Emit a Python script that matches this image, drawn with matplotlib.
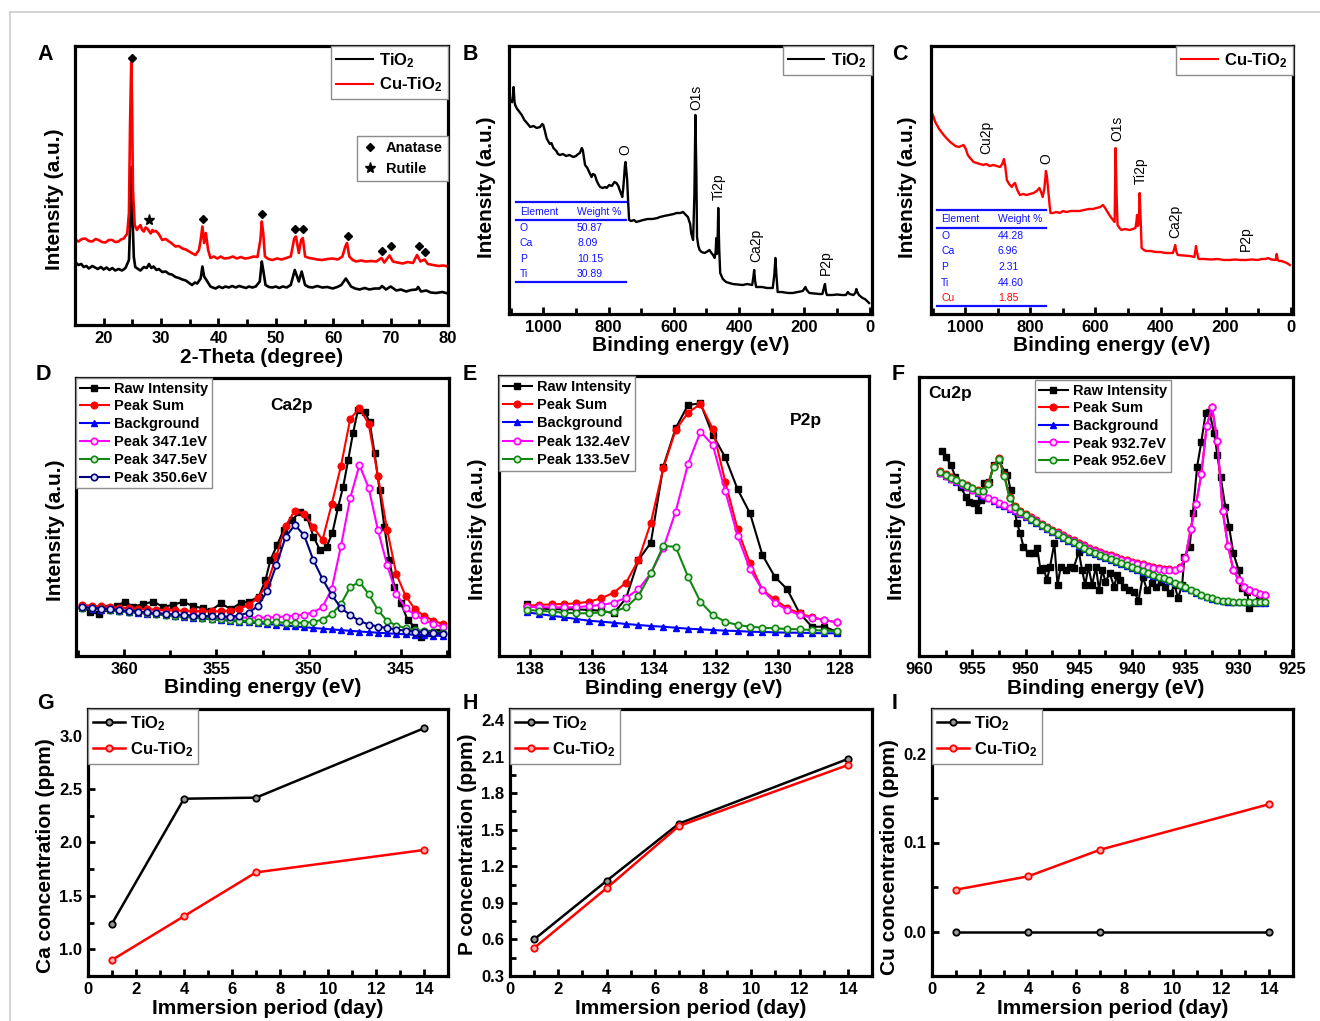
import matplotlib
matplotlib.use("Agg")
import matplotlib.pyplot as plt
from matplotlib.lines import Line2D
from matplotlib.ticker import MultipleLocator, NullLocator, FormatStrFormatter

plt.rcParams["font.family"] = ["Liberation Sans", "DejaVu Sans"]
plt.rcParams["font.weight"] = "bold"
plt.rcParams["axes.labelweight"] = "bold"
plt.rcParams["mathtext.fontset"] = "custom"
plt.rcParams["mathtext.rm"] = "Liberation Sans:bold"
plt.rcParams["mathtext.bf"] = "Liberation Sans:bold"
plt.rcParams["mathtext.it"] = "Liberation Sans:bold"

TIO2 = r"TiO$_2$"
CUTIO2 = r"Cu-TiO$_2$"

# ---------------- DATA ----------------
# (A) XRD patterns: (2-theta, intensity a.u.)
xrd_tio2 = [(15.0, 63), (15.6, 60), (16.1, 61), (16.5, 58), (17.0, 59), (17.4, 56.5), (18.0, 59), (18.5, 57.5),
            (19.0, 56), (19.5, 58), (20.0, 55.5), (20.5, 57.5), (21.0, 55), (21.5, 57), (22.0, 54.5), (22.6, 56),
            (23.2, 54.5), (23.8, 57), (24.4, 65), (24.7, 118), (24.85, 158), (25.0, 112), (25.25, 68), (25.5, 58),
            (26.0, 56), (26.4, 54.5), (27.0, 58), (27.5, 57), (27.9, 61), (28.3, 57), (28.7, 58.5), (29.2, 55),
            (29.6, 56), (30.2, 53), (30.8, 53.5), (31.4, 51), (31.9, 50.5), (32.5, 48), (33.1, 47), (33.7, 45.5),
            (34.3, 44.5), (34.9, 42), (35.4, 40), (35.9, 42.5), (36.3, 41.5), (36.9, 46.5), (37.2, 58.5), (37.5, 48.5),
            (37.9, 45), (38.6, 38.5), (39.0, 37.5), (39.5, 36.5), (40.1, 38.5), (40.7, 37), (41.2, 38.5), (41.8, 37.5),
            (42.4, 39), (43.0, 37.5), (43.6, 39), (44.2, 38), (44.8, 37), (45.3, 38.5), (45.9, 37.5), (46.5, 38.5),
            (47.2, 43.5), (47.55, 63.5), (47.8, 55), (48.2, 40), (48.8, 38), (49.4, 37.5), (50.0, 38.5), (50.6, 37),
            (51.2, 38.5), (51.9, 37.5), (52.6, 40), (53.3, 55), (54.0, 43.5), (54.5, 53.5), (55.1, 40), (55.7, 38),
            (56.4, 37.5), (57.2, 39), (58.1, 37.5), (59.0, 38), (59.9, 36.5), (60.7, 38), (61.4, 40), (62.2, 46.5),
            (63.1, 38.5), (63.8, 36.5), (64.6, 35.5), (65.5, 37), (66.3, 35.5), (67.2, 36.5), (68.1, 36.5), (68.5, 39),
            (69.2, 35.5), (70.0, 38.5), (71.0, 34.5), (71.8, 35.5), (72.7, 33.5), (73.6, 35), (74.5, 35.5), (74.8, 38),
            (75.3, 33.5), (76.2, 34.5), (77.0, 32.5), (77.9, 32), (79.0, 33), (80.0, 31.5)]
xrd_cutio2 = [(15.0, 85.5), (15.6, 83.5), (16.2, 86), (16.8, 86.5), (17.4, 84), (18.0, 83.5), (18.6, 86), (19.1, 85),
              (19.7, 83), (20.3, 82.5), (20.9, 85), (21.5, 85), (22.0, 83), (22.6, 83.5), (23.0, 85.5), (23.5, 86.5),
              (24.1, 91.5), (24.4, 112), (24.6, 202), (24.8, 263), (24.95, 218), (25.1, 135), (25.4, 100), (25.8, 95),
              (26.1, 98), (26.4, 100), (26.7, 95), (27.0, 93.5), (27.3, 97.5), (27.6, 96.5), (27.9, 94), (28.2, 91.5),
              (28.5, 95), (28.7, 93.5), (29.1, 94), (29.6, 91), (30.2, 85), (30.8, 86), (31.4, 83.5), (32.0, 81),
              (32.5, 78.5), (33.1, 79), (33.7, 76.5), (34.3, 75.5), (34.9, 73.5), (35.5, 71.5), (36.0, 70), (36.6, 75),
              (36.9, 85), (37.2, 98.5), (37.5, 82), (37.8, 92), (38.2, 75), (38.6, 67), (39.2, 68.5), (39.8, 66.5),
              (40.4, 68.5), (41.0, 66.5), (41.8, 67), (42.5, 68.5), (43.2, 66.5), (43.9, 68), (44.6, 66.5), (45.3, 67),
              (46.1, 68.5), (46.8, 68), (47.3, 85), (47.55, 103.5), (47.8, 92), (48.1, 68.5), (48.7, 66), (49.4, 65),
              (50.2, 66.5), (51.0, 65.5), (51.8, 67), (52.6, 68.5), (53.2, 86.5), (53.5, 88.5), (54.0, 72), (54.4, 85),
              (54.7, 87), (55.1, 68.5), (55.8, 67), (56.4, 66.5), (57.2, 65.5), (58.1, 65), (59.0, 66), (59.9, 66.5),
              (60.8, 65.5), (61.6, 68.5), (62.1, 78.5), (62.4, 82), (62.8, 68.5), (63.4, 65), (64.0, 63.5), (64.8, 64.5),
              (65.7, 63.5), (66.6, 64), (67.5, 63.5), (68.4, 67), (68.9, 62.5), (69.8, 69.5), (70.4, 63.5), (71.2, 62.5),
              (72.1, 61.5), (73.0, 63), (73.9, 62), (74.6, 70), (75.2, 63.5), (75.9, 65.5), (76.5, 61), (77.4, 60),
              (78.3, 59), (79.2, 59.5), (80.0, 58.5)]
anatase_marks = [(24.9, 267), (37.3, 106), (47.6, 111), (53.4, 96), (54.7, 96), (62.5, 89), (68.5, 74),
                 (70.1, 79), (74.9, 79), (76.0, 73)]
rutile_marks = [(27.9, 105)]

# (B) XPS survey TiO2: (binding energy, intensity)
survey_tio2 = [(1096, 212), (1093, 218), (1091, 227), (1088, 212), (1086, 209), (1080, 205), (1075, 203), (1066, 199),
               (1058, 194), (1050, 191), (1040, 187), (1030, 188), (1020, 186), (1010, 187), (1003, 190), (1000, 189),
               (995, 183), (990, 176), (987, 174), (980, 170), (975, 171), (969, 166), (960, 163), (955, 160),
               (949, 159), (940, 160), (930, 158), (920, 159), (908, 157), (900, 158), (893, 160), (888, 161),
               (882, 166), (879, 164), (875, 155), (872, 149), (865, 146), (858, 141), (852, 137), (848, 140),
               (842, 139), (836, 133), (830, 129), (826, 127), (818, 126), (810, 127), (806, 126), (798, 129),
               (790, 128), (782, 132), (776, 131), (770, 128), (766, 124), (760, 119), (758, 117), (755, 126),
               (753, 134), (750, 148), (748, 152), (746, 145), (743, 134), (740, 112), (737, 94), (730, 93),
               (722, 94), (715, 92), (705, 93), (694, 94), (680, 95), (665, 95), (650, 96), (643, 97), (630, 98),
               (615, 99), (600, 100), (592, 101), (580, 101), (572, 102), (566, 100), (557, 97), (550, 90), (547, 81),
               (543, 76), (541, 74), (537, 120), (534, 199), (531, 140), (529, 77), (525, 68), (521, 64), (515, 62),
               (506, 61), (500, 62), (491, 64), (485, 61), (480, 59), (475, 56), (472, 62), (470, 76), (468, 60),
               (466, 70), (464, 106), (461, 65), (458, 41), (450, 35), (440, 32), (430, 31), (420, 30), (405, 29.5),
               (389, 29), (375, 30), (360, 29), (356, 38), (354, 44), (351, 33), (348, 27), (330, 27), (315, 26),
               (297, 26), (292, 40), (289, 56), (286, 40), (282, 22), (270, 22), (250, 21), (236, 21), (220, 22),
               (205, 23), (197, 27), (193, 24), (185, 21), (170, 20.5), (155, 20), (145, 20), (139, 28), (137, 30),
               (134, 22), (131, 19), (115, 19), (100, 19.5), (85, 19), (73, 19), (67, 22), (62, 20), (50, 19),
               (44, 21), (41, 25), (38, 22), (33, 19), (26, 17), (22, 16), (15, 15), (8, 13), (2, 11)]
survey_tio2_labels = [("O", 748, 164), ("O1s", 531, 217), ("Ti2p", 462, 127), ("Ca2p", 348, 69), ("P2p", 134, 51)]
table_tio2 = [("O", "50.87"), ("Ca", "8.09"), ("P", "10.15"), ("Ti", "30.89")]

# (C) XPS survey Cu-TiO2
survey_cutio2 = [(1102, 201), (1097, 197), (1092, 192), (1087, 189), (1080, 185), (1073, 182), (1066, 179),
                 (1058, 176), (1052, 174), (1046, 172), (1038, 170), (1030, 168), (1020, 167), (1012, 168),
                 (1005, 169), (998, 165), (992, 159), (985, 156), (974, 152), (965, 151), (955, 150), (944, 149),
                 (935, 150), (925, 148), (913, 149), (903, 148), (893, 147), (886, 150), (881, 155), (877, 148),
                 (872, 134), (865, 130), (857, 127), (851, 130), (847, 131), (840, 124), (832, 119), (822, 120),
                 (812, 119), (801, 120), (790, 121), (780, 123), (772, 126), (767, 122), (762, 117), (757, 125),
                 (754, 135), (752, 143), (749, 138), (745, 124), (741, 110), (738, 101), (730, 101), (720, 102),
                 (710, 101), (699, 103), (690, 102), (675, 103), (660, 103), (648, 103), (635, 104), (620, 105),
                 (608, 105), (597, 106), (585, 107), (577, 109), (570, 106), (561, 101), (553, 97), (546, 94),
                 (541, 92), (538, 166), (535, 120), (532, 89), (526, 86), (520, 84), (510, 85), (495, 84), (485, 85),
                 (477, 86), (474, 92), (472, 99), (470, 88), (468, 89), (466, 100), (464, 121), (461, 95), (458, 66),
                 (451, 64), (444, 63), (430, 63), (415, 62), (400, 62), (385, 61), (370, 61), (362, 61), (358, 65),
                 (355, 69), (351, 62), (347, 59), (330, 58.5), (310, 58), (296, 57), (293, 63), (291, 68), (288, 62),
                 (283, 55), (265, 55), (245, 54.5), (225, 55), (205, 54), (189, 54), (170, 54.5), (155, 54),
                 (138, 54), (120, 54.5), (100, 54), (90, 55), (77, 55), (70, 56), (60, 54.5), (46, 54), (43, 60),
                 (40, 54), (36, 53), (28, 53), (20, 52), (12, 51), (3, 49)]
survey_cutio2_labels = [("Cu2p", 936, 177), ("O", 750, 155), ("O1s", 534, 186), ("Ti2p", 462, 143),
                        ("Ca2p", 354, 93), ("P2p", 138, 75)]
table_cutio2 = [("O", "44.28"), ("Ca", "6.96"), ("P", "2.31"), ("Ti", "44.60"), ("Cu", "1.85")]

# (D) Ca2p high-resolution
d_ev = [362.25, 361.75, 361.25, 360.75, 360.25, 359.75, 359.25, 358.75, 358.25, 357.75,
        357.25, 356.75, 356.25, 355.75, 355.25, 354.75, 354.25, 353.75, 353.25, 352.75,
        352.25, 351.75, 351.25, 350.75, 350.25, 349.75, 349.25, 348.75, 348.25, 347.75,
        347.25, 346.75, 346.25, 345.75, 345.25, 344.75, 344.25, 343.75, 343.25, 342.75]
d_sum = [51, 50.3, 49.6, 49, 48.4, 47.8, 47.3, 46.8, 46.4, 46, 45.6, 45.3, 45, 44.8, 44.6, 44.8, 45.5, 47.5, 51, 58,
         72, 100, 130, 145.5, 142, 129, 116, 152, 190, 237, 248, 232, 180, 126, 82, 60, 47, 40, 35.5, 32]
d_bg = [48.0, 47.2, 46.4, 45.6, 44.8, 44.0, 43.2, 42.4, 41.6, 40.8, 40.0, 39.2, 38.4, 37.6, 36.8, 36.0, 35.2, 34.4,
        33.6, 32.8, 32.0, 31.2, 30.4, 29.6, 28.8, 28.0, 27.3, 26.6, 25.9, 25.2, 24.5, 23.9, 23.3, 22.7, 22.2, 21.7,
        21.2, 20.8, 20.4, 20.0]
d_p3471 = [49, 48.2, 47.4, 46.6, 45.8, 45, 44.2, 43.4, 42.6, 41.9, 41.2, 40.5, 39.9, 39.4, 39, 38.7, 38.5, 38.4,
           38.4, 38.4, 38.5, 39, 39.5, 40.3, 41.5, 43.5, 49, 67, 110, 158, 191, 168, 126, 91, 62, 48, 41, 36, 32, 29]
d_p3475 = [48.5, 47.6, 46.8, 46.0, 45.2, 44.4, 43.6, 42.8, 42.0, 41.2, 40.4, 39.6, 38.8, 38.0, 37.3, 36.6, 36.0,
           35.4, 34.9, 34.4, 34.0, 33.6, 33.3, 33.1, 33.3, 34.0, 36.5, 42, 52, 69, 74, 62, 46, 35, 30.5, 28, 26.3,
           25.0, 24.0, 23.3]
d_p3506 = [49, 48.2, 47.4, 46.6, 45.8, 45, 44.3, 43.6, 42.9, 42.2, 41.6, 41, 40.5, 40.1, 39.8, 39.6, 39.5, 40.5,
           43.5, 50, 65, 91, 119, 131, 121, 96, 77, 61, 48, 41, 35, 31.5, 29.5, 28, 26.5, 25.3, 24.5, 23.7, 23, 22.5]
d_raw = [(362.27, 49.3), (361.83, 44.3), (361.38, 42), (360.84, 47.7), (360.39, 50), (359.95, 54.3), (359.5, 49.3),
         (358.96, 52), (358.42, 54.3), (357.89, 49.3), (357.35, 51), (356.81, 54.3), (356.28, 50), (355.74, 47.7),
         (355.3, 45.3), (354.76, 52.7), (354.2, 46.7), (353.68, 53.3), (353.23, 54.3), (352.7, 59.3), (352.34, 76),
         (352.07, 96), (351.71, 111), (351.36, 126), (350.9, 136), (350.46, 144.3), (350.1, 139.3), (349.74, 119.3),
         (349.39, 106), (349.03, 109.3), (348.72, 122.7), (348.4, 149.3), (348.13, 169.3), (347.86, 196),
         (347.6, 222.7), (347.33, 246), (346.97, 244.3), (346.7, 234.3), (346.43, 202.7), (346.16, 166),
         (345.9, 129.3), (345.63, 96), (345.36, 69.3), (345.0, 52.7), (344.64, 36), (344.28, 29.3), (343.93, 19.3),
         (343.57, 22.7), (343.2, 24.3), (342.85, 24.3)]

# (E) P2p high-resolution
e_ev = [138.1, 137.7, 137.3, 136.9, 136.5, 136.1, 135.7, 135.3, 134.9, 134.5, 134.1, 133.7, 133.3,
        132.9, 132.5, 132.1, 131.7, 131.3, 130.9, 130.5, 130.1, 129.7, 129.3, 128.9, 128.5, 128.1]
e_raw = [51.7, 47.7, 46.7, 46.7, 46.7, 46, 45.3, 42.7, 57.7, 96, 113.3, 189.3, 227.7, 251, 252.7, 221, 198.7,
         166.7, 142.7, 101, 79.3, 66.7, 42.7, 29.3, 29.3, 24.3]
e_sum = [50.3, 51, 51.7, 52, 52.7, 54.3, 57.7, 63.3, 73.3, 96, 133.3, 187.7, 226, 243.3, 252, 227, 174.3, 126.7,
         92.7, 66, 56.7, 47.7, 42.7, 38.7, 36, 33.7]
e_bg = [43.7, 42, 40.3, 38.7, 37, 35.3, 34.3, 33.3, 32, 31, 30, 29.3, 28.3, 27.3, 26.7, 26, 25.3, 25, 24.3, 24,
        23.7, 23.3, 23.3, 23, 22.7, 22.7]
e_p1324 = [49.3, 48.7, 48.7, 48.7, 48.7, 50, 51, 53.3, 58.3, 66.7, 82.7, 107.7, 144.3, 192, 224.3, 211, 165, 120,
           86.7, 66, 53.3, 46, 41, 38.3, 36, 33.7]
e_p1335 = [46, 45.3, 44.3, 43.3, 42.7, 42.7, 43.7, 44.3, 48.7, 60, 82.7, 110, 109.3, 79.3, 54.3, 41, 34.3, 31, 29.3,
           28.3, 27.7, 27, 26.7, 26, 25.3, 25]

# (F) Cu2p high-resolution
f_ev = [958.0, 957.5, 957.0, 956.5, 956.0, 955.5, 955.0, 954.5, 954.0, 953.5, 953.0, 952.5, 952.0, 951.5, 951.0,
        950.5, 950.0, 949.5, 949.0, 948.5, 948.0, 947.5, 947.0, 946.5, 946.0, 945.5, 945.0, 944.5, 944.0, 943.5,
        943.0, 942.5, 942.0, 941.5, 941.0, 940.5, 940.0, 939.5, 939.0, 938.5, 938.0, 937.5, 937.0, 936.5, 936.0,
        935.5, 935.0, 934.5, 934.0, 933.5, 933.0, 932.5, 932.0, 931.5, 931.0, 930.5, 930.0, 929.5, 929.0, 928.5,
        928.0, 927.5]
f_bg = [183, 180, 177, 174.2, 171.5, 168.7, 166, 163.2, 160.5, 157.7, 155, 152.5, 150, 147.5, 145, 142.2, 139.5,
        136.5, 133.5, 130.2, 127, 124, 121, 118.2, 115.5, 112.7, 110, 107.2, 104.5, 102.2, 100, 98, 96, 94, 92, 90,
        88, 86.2, 84.5, 82.5, 80.5, 78.7, 77, 75, 73, 70.7, 68.5, 66, 63.5, 61.2, 59, 57.5, 56, 55.2, 54.5, 54.2, 54,
        53.8, 53.7, 53.6, 53.5, 53.5]
f_p9526 = [184.5, 181.5, 178.5, 175.7, 173, 170.3, 167.7, 165.5, 165, 172, 189, 197, 180, 158, 149.5, 144, 140.8,
           137.5, 134.5, 131.2, 128, 125, 122, 119.2, 116.5, 113.7, 111, 108.2, 105.5, 103.2, 101, 99, 97, 95, 93,
           91, 89, 87.2, 85.5, 83.5, 81.5, 79.5, 77.7, 75.6, 73.5, 71.2, 69, 66.4, 63.9, 61.5, 59.3, 57.7, 56.2,
           55.3, 54.6, 54.3, 54.1, 53.9, 53.8, 53.7, 53.6, 53.6]
f_p9327 = [183.4, 180.4, 177.4, 174.6, 171.9, 169.2, 166.5, 163.7, 161, 158.3, 155.6, 153.1, 150.7, 148.2, 145.8,
           143.1, 140.5, 137.6, 134.7, 131.5, 128.4, 125.5, 122.6, 120, 117.4, 114.8, 112.2, 109.6, 107, 105, 103,
           101.3, 99.6, 98, 96.4, 94.8, 93.3, 92, 90.7, 89.4, 88.2, 87.2, 86.4, 85.8, 86, 88.5, 98, 127, 152, 182,
           230, 249, 215, 145, 110, 86, 76, 69.5, 66, 63.8, 62.5, 61.2]
f_sum = [184.9, 181.9, 178.9, 176.1, 173.4, 170.8, 168.2, 166, 165.5, 172.6, 189.6, 197.6, 180.7, 158.7, 150.3,
         144.9, 141.8, 138.6, 135.7, 132.5, 129.4, 126.5, 123.6, 121, 118.4, 115.8, 113.2, 110.6, 108, 106, 104,
         102.3, 100.6, 99, 97.4, 95.8, 94.3, 93, 91.7, 90.4, 89.2, 88.2, 87.4, 86.8, 86.5, 88.8, 98.2, 127, 152, 182,
         230, 249, 215, 145, 110, 86, 76, 69.5, 66, 63.8, 62.5, 61.2]
f_raw = [(957.8, 205.3), (957.5, 199.3), (957.0, 191), (956.6, 179.3), (956.1, 169.3), (955.6, 159.3),
         (955.3, 154.3), (954.8, 152.7), (954.5, 146), (954.2, 156), (953.9, 172.7), (953.4, 174.3), (953.0, 191),
         (952.5, 196), (952.0, 184.3), (951.7, 181), (951.4, 166), (951.1, 149.3), (950.8, 132.7), (950.5, 122.7),
         (950.2, 109.3), (949.7, 102.7), (949.2, 102.7), (948.9, 107.7), (948.6, 86), (948.3, 87.7), (948.0, 76),
         (947.7, 89.3), (947.3, 112.7), (947.0, 71), (946.7, 89.3), (946.25, 86), (945.8, 89.3), (945.5, 87.7),
         (945.0, 104.3), (944.7, 86), (944.4, 71), (944.1, 89.3), (943.75, 71), (943.4, 89.3), (943.1, 66),
         (942.8, 86), (942.5, 74.3), (942.1, 82.7), (941.7, 69.3), (941.4, 81), (941.1, 76), (940.8, 69.3),
         (940.3, 66), (939.8, 64.3), (939.4, 55.3), (939.0, 79.3), (938.6, 66), (938.1, 72.7), (937.75, 69.3),
         (937.3, 74.3), (936.9, 69.3), (936.4, 62.7), (936.0, 71), (935.7, 57.7), (935.3, 71), (935.1, 99.3),
         (934.6, 109.3), (934.3, 142.7), (933.9, 189.3), (933.5, 214.3), (933.1, 242.7), (932.75, 244.3),
         (932.3, 222.7), (932.0, 201), (931.7, 179.3), (931.25, 149.3), (930.9, 129.3), (930.5, 102.7),
         (930.0, 86), (929.7, 67.7), (929.2, 64.3), (929.0, 47.7), (928.6, 52.7), (928.1, 56)]

# (G-I) ion release
days = [1, 4, 7, 14]
ca_tio2 = [1.24, 2.41, 2.42, 3.07]
ca_cutio2 = [0.90, 1.31, 1.72, 1.93]
p_tio2 = [0.60, 1.08, 1.55, 2.08]
p_cutio2 = [0.53, 1.02, 1.53, 2.03]
cu_tio2 = [0.0, 0.0, 0.0, 0.0]
cu_cutio2 = [0.047, 0.062, 0.092, 0.143]

# ---------------- FIGURE ----------------
W, H = 1320, 1021
fig = plt.figure(figsize=(W / 100, H / 100), dpi=100)
fig.add_artist(Line2D([10 / W, 1], [1 - 12 / H, 1 - 12 / H], color="#cccccc", lw=1.2))
fig.add_artist(Line2D([10 / W, 10 / W], [0, 1 - 12 / H], color="#cccccc", lw=1.2))


def add_ax(l, t, r, b):
    ax = fig.add_axes([l / W, 1 - b / H, (r - l) / W, (b - t) / H])
    return ax


def style(ax, xlim, ylim, xmaj, xmin, ymaj=None, ymin=None, yfmt=None):
    ax.set_xlim(*xlim)
    ax.set_ylim(*ylim)
    for s in ax.spines.values():
        s.set_linewidth(2.3)
    ax.xaxis.set_major_locator(MultipleLocator(xmaj))
    ax.xaxis.set_minor_locator(MultipleLocator(xmin))
    if ymaj is None:
        ax.yaxis.set_major_locator(NullLocator())
        ax.yaxis.set_minor_locator(NullLocator())
    else:
        ax.yaxis.set_major_locator(MultipleLocator(ymaj))
        ax.yaxis.set_minor_locator(MultipleLocator(ymin))
        if yfmt:
            ax.yaxis.set_major_formatter(FormatStrFormatter(yfmt))
    ax.tick_params(which="both", direction="in", top=False, right=False, width=2.0, labelsize=12, pad=4)
    ax.tick_params(which="major", length=5)
    ax.tick_params(which="minor", length=4)


def labels(ax, xl, yl, xy_x, xy_y, yy_x, yy_y):
    ax.set_xlabel(xl, fontsize=15, fontweight="bold")
    ax.set_ylabel(yl, fontsize=15, fontweight="bold")
    ax.xaxis.set_label_coords(xy_x, xy_y)
    ax.yaxis.set_label_coords(yy_x, yy_y)
    ax.xaxis.label.set_va("center")
    ax.yaxis.label.set_va("center")


def panel_letter(x, y, s):
    fig.text(x / W, 1 - y / H, s, fontsize=15.5, fontweight="bold", ha="center", va="center")


def frame_legend(ax, handles, labs, loc, anchor, fs, **kw):
    leg = ax.legend(handles, labs, loc=loc, bbox_to_anchor=anchor, fontsize=fs, frameon=True,
                    fancybox=False, framealpha=1, edgecolor="#8c8c8c", borderaxespad=0, **kw)
    leg.get_frame().set_linewidth(1.0)
    return leg


BE = "Binding energy (eV)"
INT = "Intensity (a.u.)"

# ---- A ----
axA = add_ax(75, 46, 448, 325)
style(axA, (15, 80), (0, 279), 10, 5)
axA.plot([p[0] for p in xrd_tio2], [p[1] for p in xrd_tio2], color="black", lw=1.9)
axA.plot([p[0] for p in xrd_cutio2], [p[1] for p in xrd_cutio2], color="#ff0000", lw=1.9)
axA.plot([p[0] for p in anatase_marks], [p[1] for p in anatase_marks], "D", color="black", ms=4.5, ls="none")
axA.plot([p[0] for p in rutile_marks], [p[1] for p in rutile_marks], "*", color="black", ms=8, ls="none")
labels(axA, "2-Theta (degree)", INT, 0.5, -0.118, -0.054, 0.45)
h1 = [Line2D([], [], color="black", lw=1.5), Line2D([], [], color="#ff0000", lw=1.5)]
legA = frame_legend(axA, h1, [TIO2, CUTIO2], "upper right", (1, 1), 12, handlelength=2.2,
                    handletextpad=0.4, labelspacing=0.35, borderpad=0.3)
axA.add_artist(legA)
h2 = [Line2D([], [], marker="D", color="black", ls="none", ms=4.5),
      Line2D([], [], marker="*", color="black", ls="none", ms=8)]
frame_legend(axA, h2, ["Anatase", "Rutile"], "upper right", (1, 0.677), 10.5, handlelength=1.0,
             handletextpad=0.6, labelspacing=0.45, borderpad=0.35)
panel_letter(45, 55, "A")

# ---- B ----
axB = add_ax(509, 46, 872, 314)
style(axB, (1105, -7), (0, 268), 200, 100)
axB.plot([p[0] for p in survey_tio2], [p[1] for p in survey_tio2], color="black", lw=1.7)
for s, x, y in survey_tio2_labels:
    axB.text(x, y, s, rotation=90, ha="center", va="center", fontsize=10, fontweight="normal")
labels(axB, BE, INT, 0.5, -0.116, -0.061, 0.474)
frame_legend(axB, [Line2D([], [], color="black", lw=1.5)], [TIO2], "upper right", (1, 1), 12,
             handlelength=2.2, handletextpad=0.4, borderpad=0.3)
panel_letter(470, 55, "B")


def rowyy(rows, yline, ybot):
    n = len(rows)
    step = (ybot - yline) / n
    return [yline + step * (i + 0.5) for i in range(n)]


def element_table(x0, x1, xw, top, yhead, yline, rows, ybot, rowcolors):
    blue = "#1010ff"
    for yy in (top, yline, ybot):
        fig.add_artist(Line2D([x0 / W, x1 / W], [1 - yy / H, 1 - yy / H], color=blue, lw=1.6))
    fig.text((x0 + 4) / W, 1 - yhead / H, "Element", color=blue, fontsize=7.5, fontweight="normal",
             va="center")
    fig.text(xw / W, 1 - yhead / H, "Weight %", color=blue, fontsize=7.5, fontweight="normal", va="center")
    for (el, val), yy, c in zip(rows, rowyy(rows, yline, ybot), rowcolors):
        fig.text((x0 + 4) / W, 1 - yy / H, el, color=c, fontsize=7.5, fontweight="normal", va="center")
        fig.text(xw / W, 1 - yy / H, val, color=c, fontsize=7.5, fontweight="normal", va="center")


element_table(516, 626, 577, 202, 212, 220, table_tio2, 282, ["#1010ff"] * 4)

# ---- C ----
axC = add_ax(931, 46, 1293, 314)
style(axC, (1105, -7), (0, 268), 200, 100)
axC.plot([p[0] for p in survey_cutio2], [p[1] for p in survey_cutio2], color="#ff0000", lw=1.7)
for s, x, y in survey_cutio2_labels:
    axC.text(x, y, s, rotation=90, ha="center", va="center", fontsize=10, fontweight="normal")
labels(axC, BE, INT, 0.5, -0.116, -0.064, 0.474)
frame_legend(axC, [Line2D([], [], color="#ff0000", lw=1.5)], [CUTIO2], "upper right", (1, 1), 12,
             handlelength=2.2, handletextpad=0.4, borderpad=0.3)
panel_letter(900, 55, "C")
element_table(937, 1046, 998, 210, 219, 228, table_cutio2, 306, ["#1010ff"] * 4 + ["#ff0000"])

# common series styles for fitted spectra
RAW = dict(color="black", marker="s", ms=4.2, lw=1.5)
SUM = dict(color="#ff0000", marker="o", ms=4.8, lw=1.5)
BG = dict(color="#0000ff", marker="^", ms=4.2, lw=1.5)
MAG = dict(color="#ff00ff", marker="o", ms=4.6, lw=1.5, mfc="#ffe0ff", mew=1.2)
GRN = dict(color="#118811", marker="o", ms=4.6, lw=1.5, mfc="#d8f0d8", mew=1.2)
NAV = dict(color="#000080", marker="o", ms=4.6, lw=1.5, mfc="#e0e0ff", mew=1.2)

# ---- D ----
axD = add_ax(76, 378, 449, 656)
style(axD, (362.6, 342.4), (0, 278), 5, 2.5)
l_raw, = axD.plot([p[0] for p in d_raw], [p[1] for p in d_raw], zorder=2, **RAW)
l_sum, = axD.plot(d_ev, d_sum, zorder=3, **SUM)
l_bg, = axD.plot(d_ev, d_bg, zorder=3, **BG)
l_m, = axD.plot(d_ev, d_p3471, zorder=4, **MAG)
l_g, = axD.plot(d_ev, d_p3475, zorder=4, **GRN)
l_n, = axD.plot(d_ev, d_p3506, zorder=5, **NAV)
axD.text(350.9, 251, "Ca2p", fontsize=12.5, fontweight="bold", ha="center", va="center")
labels(axD, BE, INT, 0.5, -0.115, -0.056, 0.453)
frame_legend(axD, [l_raw, l_sum, l_bg, l_m, l_g, l_n],
             ["Raw Intensity", "Peak Sum", "Background", "Peak 347.1eV", "Peak 347.5eV", "Peak 350.6eV"],
             "upper left", (0, 1), 10.5, handlelength=2.0, handletextpad=0.35, labelspacing=0.26,
             borderpad=0.25)
panel_letter(43, 375, "D")

# ---- E ----
axE = add_ax(499, 376, 869, 656)
style(axE, (139, 127.06), (0, 280), 2, 1)
l_raw, = axE.plot(e_ev, e_raw, zorder=2, **RAW)
l_sum, = axE.plot(e_ev, e_sum, zorder=3, **SUM)
l_bg, = axE.plot(e_ev, e_bg, zorder=3, **BG)
l_m, = axE.plot(e_ev, e_p1324, zorder=4, **MAG)
l_g, = axE.plot(e_ev, e_p1335, zorder=4, **GRN)
axE.text(129.1, 236, "P2p", fontsize=12.5, fontweight="bold", ha="center", va="center")
labels(axE, BE, INT, 0.5, -0.115, -0.059, 0.453)
frame_legend(axE, [l_raw, l_sum, l_bg, l_m, l_g],
             ["Raw Intensity", "Peak Sum", "Background", "Peak 132.4eV", "Peak 133.5eV"],
             "upper left", (0, 1), 10.5, handlelength=2.0, handletextpad=0.35, labelspacing=0.3,
             borderpad=0.25)
panel_letter(470, 375, "E")

# ---- F ----
axF = add_ax(919, 377, 1293, 656)
style(axF, (960, 924.9), (0, 279), 5, 2.5)
l_raw, = axF.plot([p[0] for p in f_raw], [p[1] for p in f_raw], zorder=2, **RAW)
l_sum, = axF.plot(f_ev, f_sum, zorder=3, **SUM)
l_bg, = axF.plot(f_ev, f_bg, zorder=3, **BG)
l_m, = axF.plot(f_ev, f_p9327, zorder=4, **MAG)
l_g, = axF.plot(f_ev, f_p9526, zorder=5, **GRN)
axF.text(957.1, 263, "Cu2p", fontsize=12.5, fontweight="bold", ha="center", va="center")
labels(axF, BE, INT, 0.5, -0.115, -0.059, 0.453)
frame_legend(axF, [l_raw, l_sum, l_bg, l_m, l_g],
             ["Raw Intensity", "Peak Sum", "Background", "Peak 932.7eV", "Peak 952.6eV"],
             "upper left", ((1035 - 919) / 374, (656 - 380) / 279), 10.5, handlelength=2.0,
             handletextpad=0.35, labelspacing=0.25, borderpad=0.25)
panel_letter(898, 375, "F")

# ---- G, H, I ----
BL = dict(color="black", marker="o", ms=4.6, lw=1.8, mfc="#9a9a9a", mew=1.3)
RD = dict(color="#ff0000", marker="o", ms=4.6, lw=1.8, mfc="#ffb0b0", mew=1.3)


def release(ax, y1, y2, ylab, yy, letter, lx):
    a, = ax.plot(days, y1, zorder=3, **BL)
    b, = ax.plot(days, y2, zorder=3, **RD)
    labels(ax, "Immersion period (day)", ylab, 0.5, -0.12, -0.118, yy)
    frame_legend(ax, [a, b], [TIO2, CUTIO2], "upper left", (0, 1), 12, handlelength=1.9,
                 handletextpad=0.3, labelspacing=0.45, borderpad=0.3)
    panel_letter(lx, 703, letter)


axG = add_ax(88, 709, 448, 976)
style(axG, (0, 15), (0.75, 3.25), 2, 1, 0.5, 0.25, "%.1f")
release(axG, ca_tio2, ca_cutio2, "Ca concentration (ppm)", 0.45, "G", 45)

axH = add_ax(510, 709, 872, 976)
style(axH, (0, 15), (0.3, 2.49), 2, 1, 0.3, 0.15, "%.1f")
release(axH, p_tio2, p_cutio2, "P concentration (ppm)", 0.494, "H", 470)

axI = add_ax(932, 709, 1293, 976)
style(axI, (0, 15), (-0.05, 0.25), 2, 1, 0.1, 0.05, "%.1f")
release(axI, cu_tio2, cu_cutio2, "Cu concentration (ppm)", 0.446, "I", 895)

fig.savefig("out.png", dpi=100)
